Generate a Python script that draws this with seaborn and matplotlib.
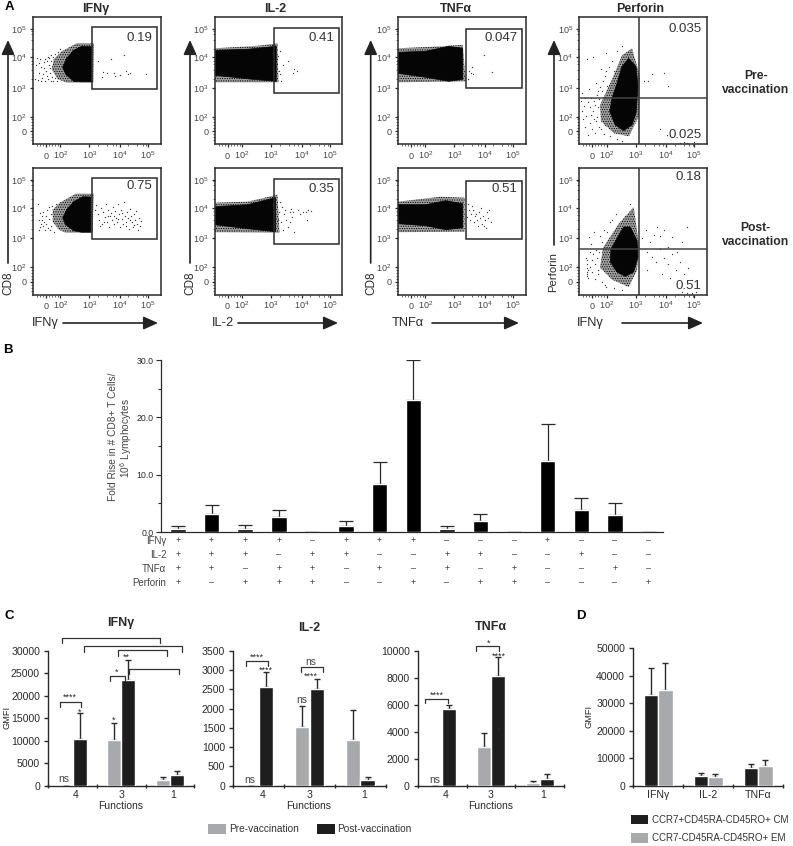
import matplotlib
matplotlib.use("Agg")
import matplotlib.pyplot as plt
import numpy as np
import pandas as pd
import seaborn as sns
from matplotlib.patches import Rectangle

sns.set_theme(style="white")
plt.rcParams['font.family'] = ['Liberation Sans', 'DejaVu Sans']
plt.rcParams['hatch.linewidth'] = 0.5
plt.rcParams['mathtext.default'] = 'regular'

W, H = 793, 846
INK = '#2a2a2a'
GREY = '#a7a9ac'
DARK = '#1e1e1e'

# ---- Panel A: events in instrument channel units (0 = zero, 14.5 = 10^2, 43 = 10^3, 74 = 10^4, 102 = 10^5)
tick_channels = [0, 14.5, 43.5, 74, 102]
tick_names = ['0', '$10^{2}$', '$10^{3}$', '$10^{4}$', '$10^{5}$']

ifng_pre_core = [(46, 84.7), (36, 85), (28, 81), (21, 73), (17, 64), (20, 57), (28, 50), (36, 49.5), (46, 49.5)]
ifng_pre_halo = [(48.3, 88), (31, 88), (16, 80), (8, 72), (6, 62), (12, 52), (21, 48.7), (47.7, 48.7)]
ifng_pre_far = [(-9, 73), (-7, 68), (-5, 64), (-11, 52), (-8, 51), (-4, 53), (-1, 50), (2, 52), (5, 50), (0, 60), (3, 66), (-3, 57),
                (7, 74), (5, 76), (9, 53), (-6, 72), (1, 70), (4, 58), (6, 54), (-2, 69), (3, 73), (11, 50), (12, 79), (2, 74),
                (-10, 66), (-7, 58), (-2, 63), (1, 55), (4, 63), (5, 70), (-5, 50), (-1, 72), (7, 50), (9, 77), (14, 82),
                (52, 70), (57, 59), (61, 58), (65, 72), (68, 58), (78, 76), (74, 56), (80, 60), (84, 58), (56, 54), (69, 55), (82, 57), (100, 57)]
il2_pre_core = [(-12.7, 81), (20, 82), (48.7, 85), (48.7, 50), (25, 52), (-12.7, 56)]
il2_pre_halo = [(-12.7, 83), (30, 85.5), (50, 88), (51, 49), (-12.7, 49)]
il2_pre_far = [(52, 80), (60, 70), (66, 62), (69, 60), (55, 66), (52, 57), (53, 50), (50, 75), (51, 60), (65, 58)]
tnf_pre_core = [(-12.7, 79), (15, 80), (38, 85), (52, 83), (52, 52), (38, 50), (15, 54), (-12.7, 58)]
tnf_pre_halo = [(-12.7, 83), (30, 85), (52, 86.5), (55, 50), (-12.7, 49)]
tnf_pre_far = [(58, 60), (60, 58), (62, 57), (61, 64), (73, 76), (81, 59), (57, 52)]
ifng_post_core = [(45, 84.7), (37, 85), (28, 80), (21, 72), (17, 64), (20, 57), (28, 51), (36, 49.5), (45, 49.5)]
ifng_post_halo = [(48, 88), (30, 88), (14, 79), (7, 72), (7, 60), (13, 52), (20, 49), (47, 49)]
ifng_post_far = [(-8, 78), (-6, 69), (-4, 62), (-3, 56), (-2, 60), (0, 66), (1, 72), (3, 63), (2, 54), (5, 68), (-1, 52), (-4, 66),
                 (-7, 62), (-6, 55), (-5, 58), (-3, 70), (3, 75), (5, 56), (6, 76), (8, 50), (10, 78), (-7, 52), (0, 58), (4, 52),
                 (49, 72), (50, 77), (52, 68), (53, 62), (55, 74), (56, 58), (57, 70), (59, 65), (60, 78), (61, 60), (62, 72),
                 (63, 55), (64, 66), (65, 69), (66, 62), (67, 75), (68, 58), (69, 71), (70, 64), (71, 60), (72, 78), (73, 68),
                 (74, 55), (75, 72), (76, 63), (77, 58), (78, 80), (79, 66), (80, 60), (81, 70), (82, 64), (83, 53), (84, 73),
                 (85, 66), (86, 60), (87, 55), (88, 68), (89, 62), (90, 71), (91, 58), (92, 52), (93, 64), (94, 56), (95, 61),
                 (72, 63), (76, 69), (68, 66), (80, 56), (84, 62), (88, 57), (58, 60), (54, 56), (62, 66)]
il2_post_core = [(-12.7, 75), (20, 77), (48, 84), (48, 50), (20, 53), (-12.7, 57)]
il2_post_halo = [(-12.7, 79), (20, 80), (50, 87), (52, 49), (-12.7, 49.5)]
il2_post_far = [(52, 80), (54, 75), (51, 70), (56, 68), (58, 62), (53, 60), (60, 55), (55, 52), (57, 72), (63, 73), (64, 65), (62, 70),
                (65, 70), (70, 72), (75, 70), (78, 70), (72, 68), (80, 72), (66, 50), (79, 62), (62, 60), (50, 62), (83, 71)]
tnf_post_core = [(-12.7, 77), (15, 77), (35, 81), (52, 78), (52, 54), (35, 52), (15, 56), (-12.7, 58)]
tnf_post_halo = [(-12.7, 80), (30, 85), (54, 84), (54, 50), (-12.7, 49.5)]
tnf_post_far = [(57, 78), (58, 72), (60, 68), (62, 72), (64, 66), (66, 62), (68, 70), (70, 74), (72, 66), (74, 62), (76, 70), (71, 58),
                (59, 62), (63, 60), (67, 56), (73, 56), (77, 64), (78, 72), (61, 76), (65, 68), (69, 64), (75, 54), (80, 60), (56, 65)]
perf_pre_core = [(36.7, 73), (44, 64.7), (46, 44.7), (44, 18), (40, 6.3), (31.7, 0.7), (23.3, 6.3), (17.7, 19.7), (20, 33), (25, 48), (30, 64.7)]
perf_pre_halo = [(40, 83), (48, 55), (47, 15), (37, -5), (22, -2), (9, 10), (8, 26), (20, 52), (30, 76)]
perf_pre_far = [(-5, 72), (1, 74), (14, 78), (25, 80), (20, 70), (9, 62), (13, 55), (4, 48), (-3, 42), (-10, 38), (-8, 25), (-6, 15), (-2, 8),
                (0, 2), (-4, -4), (3, -2), (7, 4), (2, 30), (-2, 24), (-9, 12), (10, 40), (5, 36), (15, 45), (12, -3), (30, 85),
                (-11, 30), (-7, 33), (-4, 29), (-1, 33), (1, 20), (3, 26), (5, 14), (6, 24), (4, 10), (-1, 16), (7, 32), (8, 44), (11, 50),
                (12, 34), (14, 60), (17, 64), (22, 60), (6, 40), (2, 12), (-7, 4), (-10, 20), (9, 2), (13, 6), (18, -5), (25, -8), (30, -10),
                (52, 50), (56, 50), (60, 57), (72, 58), (76, 45), (68, 2), (75, -4), (80, -6), (88, -12), (95, -12), (102, -11), (92, -11)]
perf_post_core = [(38.3, 54.7), (45, 41.3), (46, 24.7), (41.7, 9.7), (33.3, 5.3), (25, 9.7), (18.3, 19.7), (19, 33), (26.7, 46.3), (31.7, 54.7)]
perf_post_halo = [(41.7, 74.7), (47.3, 34.7), (45, 11.3), (36.7, -5.3), (20, 2), (8, 14), (11, 34), (26.7, 58)]
perf_post_far = [(-3, 45), (-1, 38), (2, 50), (8, 46), (12, 52), (18, 60), (10, 40), (4, 32), (-6, 24), (-5, 18), (-4, 12), (-5, 8), (-4, 4),
                 (-2, 15), (0, 10), (3, 3), (6, 8), (10, 0), (13, -3), (38, 78), (33, 66), (-5, 22), (-5, 14), (-5, 10), (-5, 6), (1, 28),
                 (3, 18), (5, 24), (6, 12), (0, 22), (-2, 30), (7, 30), (15, 50), (20, 62), (24, 68), (14, -5), (22, -6), (30, -8),
                 (50, 44), (54, 52), (58, 40), (62, 47),
                 (65, 55), (68, 46), (72, 52), (76, 35), (80, 45), (85, 30), (90, 40), (95, 55), (55, 30), (60, 25), (64, 20), (68, 33),
                 (72, 24), (76, 18), (80, 28), (84, 12), (88, 20), (92, 8), (96, 14), (100, 2), (55, 12), (70, 8), (78, 4),
                 (90, -10), (95, -11), (100, -11), (104, -10), (86, -12)]

gate_ifng_pre = (46, 42.3, 111, 104)
gate_il2_pre = (46.3, 38.3, 111.3, 103.3)
gate_tnf_pre = (55, 43.7, 111, 102)
gate_ifng_post = (46, 42.3, 111, 103.7)
gate_il2_post = (46.3, 38, 111.3, 103)
gate_tnf_post = (55, 43, 111, 101)
perf_split_x = 47
perf_split_y = 33

# ---- Panel B
combo_rise = [0.5, 3.2, 0.6, 2.6, 0, 1.1, 8.3, 23.1, 0.5, 2.0, 0, 12.4, 3.8, 3.0, 0]
combo_top = [1.1, 4.7, 1.3, 3.9, 0, 2.0, 12.2, 30.0, 1.1, 3.2, 0, 18.8, 5.9, 5.1, 0]
row_ifng = list("++++-+++---+---")
row_il2 = list("+++-++--++--+--")
row_tnf = list("++-++-+-+-+--+-")
row_perf = list("+-+++--+-++---+")

# ---- Panel C
functions = ['4', '3', '1']
phases = ['Pre-vaccination', 'Post-vaccination']
ifng_pre = [0, 10100, 1300]
ifng_post = [10300, 23600, 2300]
ifng_pre_top = [0, 14000, 1900]
ifng_post_top = [16100, 28000, 3200]
il2_pre = [0, 1510, 1175]
il2_post = [2560, 2515, 135]
il2_pre_top = [0, 2065, 1970]
il2_post_top = [2960, 2765, 225]
tnf_pre = [0, 2900, 200]
tnf_post = [5700, 8100, 470]
tnf_pre_top = [0, 3930, 350]
tnf_post_top = [5980, 9500, 870]

# ---- Panel D
cytokines = ['IFNγ', 'IL-2', 'TNFα']
subsets = ['CCR7+CD45RA-CD45RO+ CM', 'CCR7-CD45RA-CD45RO+ EM']
cm_gmfi = [33000, 3500, 6500]
em_gmfi = [35000, 3000, 7100]
cm_top = [42900, 4500, 7800]
em_top = [44700, 4100, 9200]

fig = plt.figure(figsize=(W / 100, H / 100), dpi=100, facecolor='white')


def box(l, t, r, b):
    return fig.add_axes([l / W, 1 - b / H, (r - l) / W, (b - t) / H])


def flow(l, t, core, halo, far):
    ax = box(l, t, l + 127.5, t + 127)
    ax.set_facecolor('white')
    ax.fill(*zip(*halo), facecolor='#a0a0a0', edgecolor='black', hatch='.......', lw=0, zorder=1)
    ax.fill(*zip(*core), color='#050505', lw=0.5, zorder=2)
    d = pd.DataFrame(far, columns=['x', 'y'])
    sns.scatterplot(data=d, x='x', y='y', ax=ax, s=0.9, color='#3a3a3a', linewidth=0, zorder=3)
    ax.set_xlim(-12.7, 114.8)
    ax.set_ylim(-13, 114)
    ax.set_xlabel('')
    ax.set_ylabel('')
    ax.set_xticks(tick_channels, tick_names)
    ax.set_yticks(tick_channels, tick_names)
    minor = [-9, -6, -3, 3, 6, 9, 12] + [43.5 + 30 * np.log10(k) + 30 * j for j in range(2) for k in (2, 4, 6, 8)]
    ax.set_xticks(minor, minor=True)
    ax.set_yticks(minor, minor=True)
    ax.tick_params(which='major', length=2.5, width=0.9, color=INK, labelsize=6.5, labelcolor='#444444',
                   bottom=True, left=True)
    ax.tick_params(axis='x', which='major', pad=8)
    ax.tick_params(axis='y', which='major', pad=2)
    for lab in ax.get_xticklabels():
        lab.set_verticalalignment('baseline')
    ax.tick_params(which='minor', length=1.3, width=0.5, color=INK, bottom=True, left=True)
    for s in ax.spines.values():
        s.set_color(INK)
        s.set_linewidth(1.1)
    return ax


def gate(ax, g):
    ax.add_patch(Rectangle((g[0], g[1]), g[2] - g[0], g[3] - g[1], fill=False, ec=INK, lw=1.1, zorder=4))


cols = [33, 214.8, 398, 579.3]
rows = [17.3, 167.7]
a = flow(cols[0], rows[0], ifng_pre_core, ifng_pre_halo, ifng_pre_far); gate(a, gate_ifng_pre)
a = flow(cols[1], rows[0], il2_pre_core, il2_pre_halo, il2_pre_far); gate(a, gate_il2_pre)
a = flow(cols[2], rows[0], tnf_pre_core, tnf_pre_halo, tnf_pre_far); gate(a, gate_tnf_pre)
a = flow(cols[0], rows[1], ifng_post_core, ifng_post_halo, ifng_post_far); gate(a, gate_ifng_post)
a = flow(cols[1], rows[1], il2_post_core, il2_post_halo, il2_post_far); gate(a, gate_il2_post)
a = flow(cols[2], rows[1], tnf_post_core, tnf_post_halo, tnf_post_far); gate(a, gate_tnf_post)
for r, core, halo, far in ((rows[0], perf_pre_core, perf_pre_halo, perf_pre_far),
                           (rows[1], perf_post_core, perf_post_halo, perf_post_far)):
    a = flow(cols[3], r, core, halo, far)
    a.axvline(perf_split_x, color='#333333', lw=1.1, zorder=4)
    a.axhline(perf_split_y, color='#444444', lw=1.1, zorder=4)

# ---- B
axb = box(161, 360, 663, 532)
dfb = pd.DataFrame({'combo': range(15), 'rise': combo_rise})
sns.barplot(data=dfb, x='combo', y='rise', ax=axb, color='black', saturation=1, width=0.46, errorbar=None, native_scale=True,
            zorder=3)
axb.errorbar(range(15), combo_rise, yerr=[np.zeros(15), np.array(combo_top) - np.array(combo_rise)], fmt='none',
             ecolor=INK, elinewidth=0.9, capsize=5.3, capthick=0.9, zorder=1)
axb.set_xlim(-0.506, 14.43)
axb.set_ylim(0, 30)
axb.set_xlabel('')
axb.set_ylabel('')
axb.set_xticks([])
axb.set_yticks([0, 10, 20, 30], ['0.0', '10.0', '20.0', '30.0'])
axb.set_yticks([5, 15, 25], minor=True)
axb.tick_params(axis='y', which='major', length=3.5, width=0.8, color=INK, labelsize=6.3, labelcolor=INK, pad=2, left=True)
axb.tick_params(axis='y', which='minor', length=2, width=0.8, color=INK, left=True)
for s in ('top', 'right'):
    axb.spines[s].set_visible(False)
for s in ('left', 'bottom'):
    axb.spines[s].set_color(INK)
    axb.spines[s].set_linewidth(0.9)
axb.patch.set_alpha(0)


def groups(l, t, r, b, ymax, yt, names, hues, a_vals, b_vals, a_top, b_top, label_at, palette):
    ax = box(l, t, r, b)
    d = pd.DataFrame({'g': names * 2, 'h': [hues[0]] * 3 + [hues[1]] * 3, 'v': list(a_vals) + list(b_vals)})
    sns.barplot(data=d, x='g', y='v', hue='h', order=names, hue_order=hues, palette=palette, saturation=1, width=0.572,
                gap=0, errorbar=None, legend=False, ax=ax, zorder=3)
    pos = np.arange(3)
    for off, vals, top in ((-0.143, a_vals, a_top), (0.143, b_vals, b_top)):
        v = np.array(vals, float)
        ax.errorbar(pos + off, v, yerr=[np.zeros(3), np.array(top) - v], fmt='none', ecolor=INK, elinewidth=1.0, capsize=2.4,
                    capthick=1.0, zorder=1)
    ax.set_xlim(-0.5, 2.5)
    ax.set_ylim(0, ymax)
    ax.set_xlabel('')
    ax.set_ylabel('')
    ax.set_xticks([-0.5, 0.5, 1.5, 2.5], ['', '', '', ''])
    ax.set_xticks(label_at, names, minor=True)
    ax.set_yticks(yt, [str(v) for v in yt])
    ax.tick_params(axis='x', which='major', length=3, width=1.0, color=INK, bottom=True, direction='inout')
    ax.tick_params(axis='x', which='minor', length=0, labelsize=7.6, labelcolor=INK, pad=3)
    ax.tick_params(axis='y', length=3, width=1.0, color=INK, left=True, labelsize=7.6, labelcolor=INK, pad=3)
    for s in ('top', 'right'):
        ax.spines[s].set_visible(False)
    for s in ('left', 'bottom'):
        ax.spines[s].set_color(INK)
        ax.spines[s].set_linewidth(1.0)
    ax.patch.set_alpha(0)
    return ax


pal = {phases[0]: GREY, phases[1]: DARK}
groups(48.3, 650.7, 194.3, 785.7, 30000, list(range(0, 30001, 5000)), functions, phases, ifng_pre, ifng_post, ifng_pre_top,
       ifng_post_top, [0.07, 1, 2.07], pal)
groups(233.3, 650.7, 385.7, 785.7, 3500, list(range(0, 3501, 500)), functions, phases, il2_pre, il2_post, il2_pre_top,
       il2_post_top, [0.07, 1, 2.08], pal)
groups(418, 650.7, 564, 785.7, 10000, list(range(0, 10001, 2000)), functions, phases, tnf_pre, tnf_post, tnf_pre_top,
       tnf_post_top, [0.07, 1, 2.07], pal)
groups(633.3, 648.3, 783.3, 785.7, 50000, list(range(0, 50001, 10000)), cytokines, subsets, cm_gmfi, em_gmfi, cm_top, em_top,
       [0, 1, 2], {subsets[0]: DARK, subsets[1]: GREY})

# ---- overlay: labels, arrows, brackets
ov = fig.add_axes([0, 0, 1, 1], zorder=20)
ov.set_xlim(0, W)
ov.set_ylim(H, 0)
ov.axis('off')


def T(x, y, s, size=7.5, ha='center', va='center', weight='normal', color=INK, rot=0, ls=None):
    ov.text(x, y, s, fontsize=size, ha=ha, va=va, fontweight=weight, color=color, rotation=rot, linespacing=ls)


def arrow(x0, y0, x1, y1):
    ov.annotate('', xy=(x1, y1), xytext=(x0, y0),
                arrowprops=dict(arrowstyle='-|>,head_length=0.8,head_width=0.36', lw=1.2, color='#222222', mutation_scale=11,
                                shrinkA=0, shrinkB=0))


def bracket(x0, x1, y, leg):
    ov.plot([x0, x0, x1, x1], [leg, y, y, leg], color='#333333', lw=0.9, solid_joinstyle='round')


for x, y, s in ((9, 7, 'A'), (8, 350, 'B'), (9.3, 615.7, 'C'), (581, 616, 'D')):
    T(x, y, s, size=9.5, weight='bold', color='black')
for x, s in ((96, 'IFNγ'), (275, 'IL-2'), (455.7, 'TNFα'), (640, 'Perforin')):
    T(x, 9, s, size=9, weight='bold')
for x, y in ((755.7, 83), (755.7, 235)):
    T(x, y, ('Pre-\nvaccination' if y < 100 else 'Post-\nvaccination'), size=8.7, weight='bold', ls=1.3)

for x, y, s in ((152, 38, '0.19'), (334, 38, '0.41'), (517.7, 38, '0.047'), (701.7, 28.7, '0.035'), (701.7, 135, '0.025'),
                (152, 186, '0.75'), (334, 189, '0.35'), (517.7, 189, '0.51'), (701.7, 177, '0.18'), (701, 286, '0.51')):
    T(x, y, s, size=9.5, ha='right', color='#333333')

for x, tx in ((8, 8.5), (190, 190.5), (370.7, 371.2)):
    arrow(x, 263, x, 40)
    T(tx, 283.7, 'CD8', size=8.5, rot=90)
arrow(554, 245, 554, 40)
T(553, 272.5, 'Perforin', size=8.2, rot=90)
arrow(63, 323, 158, 323)
arrow(238, 323, 338, 323)
arrow(432, 323, 519, 323)
arrow(622, 323, 703, 323)
T(32, 323, 'IFNγ', size=9.3, ha='left')
T(212, 323, 'IL-2', size=9.3, ha='left')
T(392, 323, 'TNFα', size=9.3, ha='left')
T(577, 323, 'IFNγ', size=9.3, ha='left')

# Panel B table and axis title
T(113, 437, 'Fold Rise in # CD8+ T Cells/', size=7.3, rot=90, color='#444444')
T(126, 438, '10$^{6}$ Lymphocytes', size=7.3, rot=90, color='#444444')
for y, name, row in ((541, 'IFNγ', row_ifng), (555, 'IL-2', row_il2), (569, 'TNFα', row_tnf), (582.5, 'Perforin', row_perf)):
    T(166.5, y, name, size=7, ha='right', color='#444444')
    for i, sign in enumerate(row):
        T(178 + 33.6 * i, y, '+' if sign == '+' else '–', size=6.5, color='#333333')

# Panel C text
for x, y, s in ((121, 622.7, 'IFNγ'), (309, 627.7, 'IL-2'), (490.7, 626.7, 'TNFα')):
    T(x, y, s, size=9, weight='bold')
for x in (121, 309, 490.7):
    T(x, 806, 'Functions', size=7.5)
T(6.7, 717.7, 'GMFI', size=6.7, rot=90)
T(589, 716.7, 'GMFI', size=6.7, rot=90)

for b in ((62.3, 160, 638, 643.3), (83.7, 182, 645.7, 651.7), (117.7, 166.7, 650, 656), (129, 179, 669, 674),
          (59.7, 81, 701.7, 707), (109.7, 124.7, 676.3, 680.7), (245.7, 268.3, 660.7, 665.7), (300.7, 322.7, 667, 672.3),
          (425.3, 448.3, 698.7, 703.3), (476, 499, 646.3, 651.3)):
    bracket(*b)

for x, y, s in ((70.3, 696, '****'), (79.3, 710.7, '*'), (114, 718.7, '*'), (117, 670.5, '*'), (126.7, 655.3, '**'),
                (256.7, 655.3, '****'), (265.7, 669, '****'), (311, 675, '****'), (436.7, 694, '****'), (498.7, 729, '*'),
                (498.7, 655, '****'), (488.7, 642, '*')):
    T(x, y + 1.5, s, size=6.5)
for x, y, s in ((64, 779, 'ns'), (250, 779.7, 'ns'), (301.3, 700, 'ns'), (310.7, 662.3, 'ns'), (434.3, 780, 'ns')):
    T(x, y, s, size=7.5, color='#444444')

# Legends
for x, y, w, h, c, s, tx in ((208, 824, 18, 9.6, GREY, phases[0], 229), (317, 824, 18, 9.6, DARK, phases[1], 337.5),
                             (630.7, 815, 17.6, 9.3, DARK, subsets[0], 652), (630.7, 833.3, 17.6, 9.6, GREY, subsets[1], 652)):
    ov.add_patch(Rectangle((x, y), w, h, color=c, lw=0))
    T(tx, y + h / 2, s, size=7.3 if x < 600 else 7.0, ha='left', color='#333333')

fig.savefig('out.png', dpi=100)
